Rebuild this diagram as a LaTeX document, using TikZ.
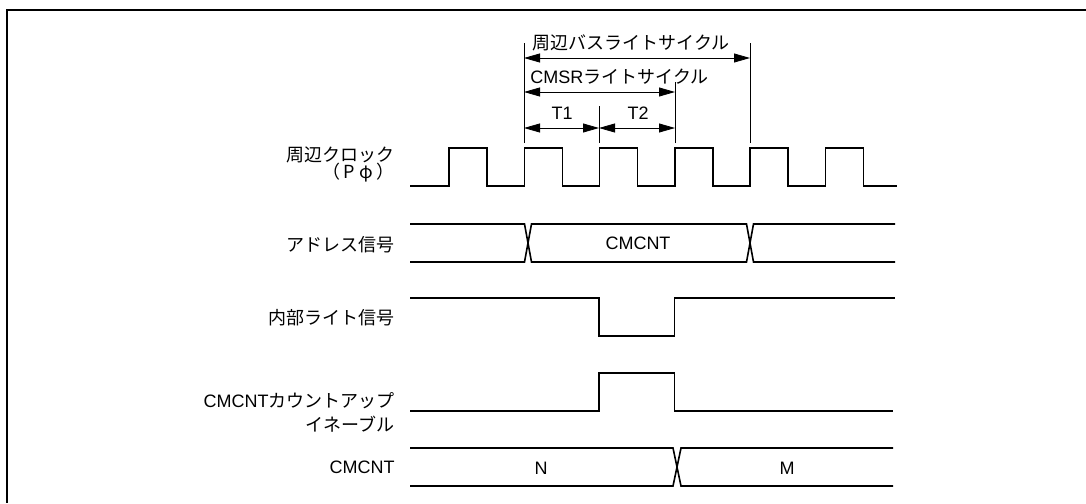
\documentclass[tikz,border=0pt]{standalone}
\usepackage{fontspec}
\setmainfont{Liberation Sans}
\newfontfamily\jp{Noto Sans CJK JP}
\usetikzlibrary{arrows.meta}

\begin{document}
\begin{tikzpicture}[
  x=0.5pt, y=-0.5pt,
  every node/.style={font=\fontsize{9}{10.8}\selectfont, inner sep=0pt},
  sig/.style={line width=0.8pt, line join=miter},
  dim/.style={line width=0.4pt},
  dimarrow/.style={dim, {Triangle[length=8pt,width=4.5pt]}-{Triangle[length=8pt,width=4.5pt]}},
  siglabel/.style={anchor=east, align=right},
  frame/.style={line width=1.1pt},
]
\useasboundingbox (0,0) rectangle (1086,503);
\draw[frame] (1086,10) -- (7,10) -- (7,503);

%% ── Signal names ──────────────────────────────────────────────────────────
\node[siglabel, font=\fontsize{9}{8.5}\selectfont] (clkL) at (395,164.5)
  {{\jp 周辺クロック}\\{\jp （\hspace{1.5pt}P\hspace{2.5pt}φ\hspace{1.5pt}）}};
\node[siglabel] (adrL) at (395,245) {\jp アドレス信号};
\node[siglabel] (wrL) at (395,318) {\jp 内部ライト信号};
\node[siglabel, font=\fontsize{9}{12}\selectfont] (enL) at (395,412)
  {CMCNT{\jp カウントアップ}\\{\jp イネーブル}};
\node[siglabel] (cntL) at (395,467) {CMCNT};

%% ── Waveforms ─────────────────────────────────────────────────────────────
% peripheral clock
\draw[sig] (410,186) foreach \k in {0,...,5} {
    -- ({449+75.3*\k},186) |- ({487+75.3*\k},148) -- ({487+75.3*\k},186)
  } -- (897,186);

% address bus
\draw[sig] (410,224) -- (524.5,224) -- (531.5,262) -- (746.5,262) -- (753.5,224) -- (895,224);
\draw[sig] (410,262) -- (524.5,262) -- (531.5,224) -- (746.5,224) -- (753.5,262) -- (895,262);
\node (adrV) at (638,243) {CMCNT};

% internal write
\draw[sig] (410,298) -- (599,298) -- (599,336) -- (674.5,336) -- (674.5,298) -- (895,298);

% count-up enable
\draw[sig] (410,411) -- (599,411) -- (599,373) -- (674.5,373) -- (674.5,411) -- (893,411);

% CMCNT bus
\draw[sig] (410,448) -- (673,448) -- (681,486) -- (893,486);
\draw[sig] (410,486) -- (673,486) -- (681,448) -- (893,448);
\node (cntN) at (541,468) {N};
\node (cntM) at (787,468) {M};

%% ── Cycle dimensions ──────────────────────────────────────────────────────
\coordinate (eA) at (524,143);
\coordinate (eB) at (599,143);
\coordinate (eC) at (675,143);
\coordinate (eD) at (750,143);

\draw[dim] (eA) -- ++(0,-100);
\draw[dim] (eB) -- ++(0,-37);
\draw[dim] (eC) -- ++(0,-61);
\draw[dim] (eD) -- ++(0,-100);

\draw[dimarrow] ([yshift=42.5pt]eA) -- ([yshift=42.5pt]eD);
\draw[dimarrow] ([yshift=25.5pt]eA) -- ([yshift=25.5pt]eC);
\draw[dimarrow] ([yshift=7.5pt]eA) -- ([yshift=7.5pt]eB);
\draw[dimarrow] ([yshift=7.5pt]eB) -- ([yshift=7.5pt]eC);

\node[anchor=west] (busL) at (532,43) {\jp 周辺バスライトサイクル};
\node[anchor=west] (cmsrL) at (530,77) {CMSR{\jp ライトサイクル}};
\node (t1L) at (562,113) {T1};
\node (t2L) at (638,113) {T2};

\end{tikzpicture}
\end{document}
